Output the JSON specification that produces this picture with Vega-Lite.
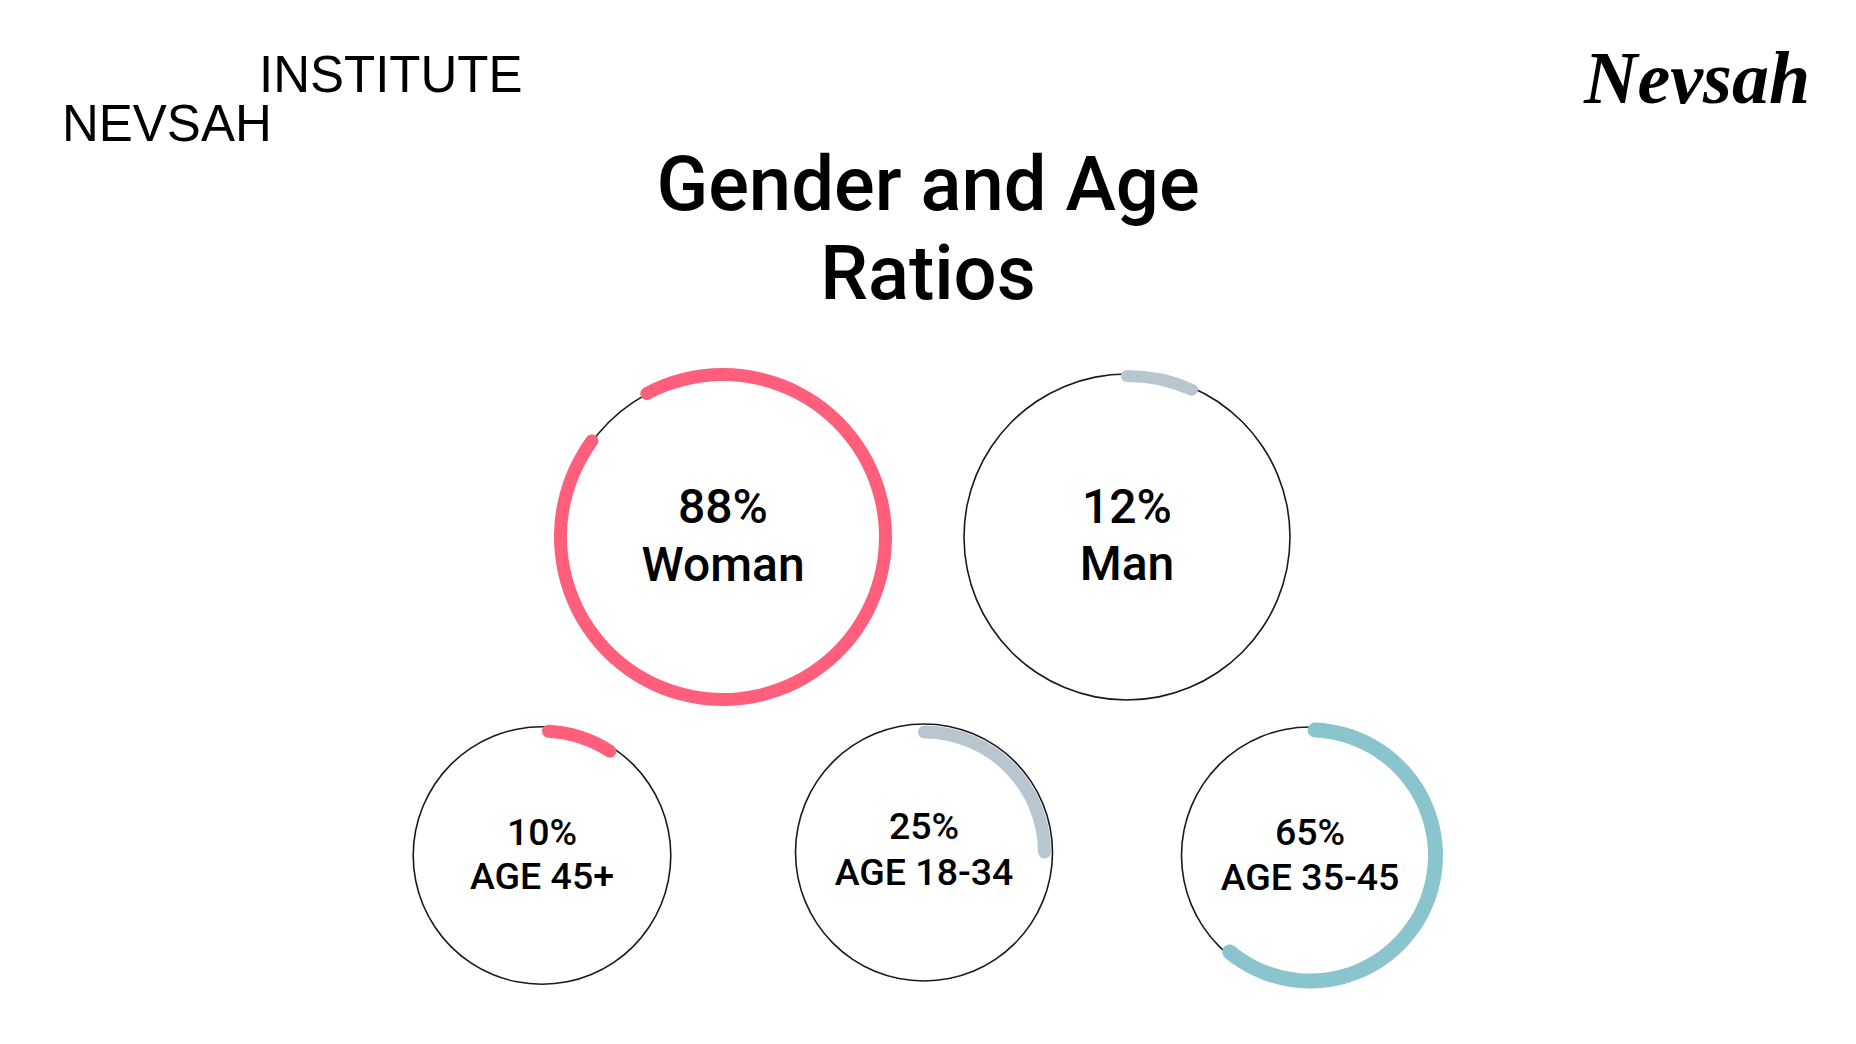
{
  "$schema": "https://vega.github.io/schema/vega-lite/v6.json",
  "background": "#ffffff",
  "padding": 0,
  "center": true,
  "spacing": 0,
  "config": {
    "view": {"stroke": null},
    "concat": {"spacing": 0},
    "text": {"font": "Roboto", "color": "#000000"}
  },
  "datasets": {
    "ratios": [
      {"group": "Gender", "label": "Woman", "value": 0.88, "start": -8.4, "end": 85.7},
      {"group": "Gender", "label": "Man", "value": 0.12, "start": -0.6, "end": 7.2},
      {"group": "Age", "label": "AGE 45+", "value": 0.10, "start": 0, "end": 10},
      {"group": "Age", "label": "AGE 18-34", "value": 0.25, "start": -0.8, "end": 25.8},
      {"group": "Age", "label": "AGE 35-45", "value": 0.65, "start": -0.3, "end": 62}
    ],
    "header": [
      {"role": "title1", "text": "Gender and Age"},
      {"role": "title2", "text": "Ratios"},
      {"role": "brand1", "text": "INSTITUTE"},
      {"role": "brand2", "text": "NEVSAH"},
      {"role": "logo", "text": "Nevsah"}
    ]
  },
  "vconcat": [
    {
      "width": 1856,
      "height": 365,
      "data": {"name": "header"},
      "layer": [
        {
          "transform": [{"filter": "datum.role === 'title1'"}],
          "mark": {"type": "text", "fontSize": 76, "fontWeight": 500, "align": "center", "baseline": "alphabetic", "dy": 27.5},
          "encoding": {"text": {"field": "text", "type": "nominal"}}
        },
        {
          "transform": [{"filter": "datum.role === 'title2'"}],
          "mark": {"type": "text", "fontSize": 76, "fontWeight": 500, "align": "center", "baseline": "alphabetic", "dy": 116},
          "encoding": {"text": {"field": "text", "type": "nominal"}}
        },
        {
          "transform": [{"filter": "datum.role === 'brand1'"}],
          "mark": {"type": "text", "font": "Liberation Sans", "fontSize": 51, "fontWeight": "normal", "align": "left", "baseline": "alphabetic", "dx": -669, "dy": -90.5},
          "encoding": {"text": {"field": "text", "type": "nominal"}}
        },
        {
          "transform": [{"filter": "datum.role === 'brand2'"}],
          "mark": {"type": "text", "font": "Liberation Sans", "fontSize": 51, "fontWeight": "normal", "align": "left", "baseline": "alphabetic", "dx": -866, "dy": -41.5},
          "encoding": {"text": {"field": "text", "type": "nominal"}}
        },
        {
          "transform": [{"filter": "datum.role === 'logo'"}],
          "mark": {"type": "text", "font": "Liberation Serif", "fontSize": 74, "fontStyle": "italic", "fontWeight": "bold", "align": "center", "baseline": "alphabetic", "dx": 769, "dy": -80},
          "encoding": {"text": {"field": "text", "type": "nominal"}}
        }
      ]
    },
    {
      "hconcat": [
        {
          "width": 398,
          "height": 344,
          "data": {"name": "ratios"},
          "transform": [{"filter": "datum.label === 'Woman'"}],
          "layer": [
            {"mark": {"type": "arc", "radius": 162.8, "radius2": 161.2, "theta": 0, "theta2": 6.2832, "color": "#1a1a1a"}, "encoding": {}},
            {
              "mark": {"type": "arc", "radius": 169, "radius2": 156, "cornerRadius": 6.5, "color": "#ff5f7b"},
              "encoding": {
                "theta": {"field": "start", "type": "quantitative", "stack": null, "scale": {"domain": [0, 100], "range": [0, 6.283185307179586]}},
                "theta2": {"field": "end"}
              }
            },
            {
              "mark": {"type": "text", "fontSize": 48, "fontWeight": 500, "align": "center", "baseline": "alphabetic", "dy": -14},
              "encoding": {"text": {"field": "value", "type": "quantitative", "format": ".0%"}}
            },
            {
              "mark": {"type": "text", "fontSize": 48, "fontWeight": 500, "align": "center", "baseline": "alphabetic", "dy": 44},
              "encoding": {"text": {"field": "label", "type": "nominal"}}
            }
          ]
        },
        {
          "width": 410,
          "height": 344,
          "data": {"name": "ratios"},
          "transform": [{"filter": "datum.label === 'Man'"}],
          "layer": [
            {"mark": {"type": "arc", "radius": 163.8, "radius2": 162.2, "theta": 0, "theta2": 6.2832, "color": "#1a1a1a"}, "encoding": {}},
            {
              "mark": {"type": "arc", "radius": 167, "radius2": 155, "cornerRadius": 6, "color": "#b8c6cf"},
              "encoding": {
                "theta": {"field": "start", "type": "quantitative", "stack": null, "scale": {"domain": [0, 100], "range": [0, 6.283185307179586]}},
                "theta2": {"field": "end"}
              }
            },
            {
              "mark": {"type": "text", "fontSize": 48, "fontWeight": 500, "align": "center", "baseline": "alphabetic", "dy": -14},
              "encoding": {"text": {"field": "value", "type": "quantitative", "format": ".0%"}}
            },
            {
              "mark": {"type": "text", "fontSize": 48, "fontWeight": 500, "align": "center", "baseline": "alphabetic", "dy": 43},
              "encoding": {"text": {"field": "label", "type": "nominal"}}
            }
          ]
        }
      ]
    },
    {
      "hconcat": [
        {
          "width": 384,
          "height": 293,
          "data": {"name": "ratios"},
          "transform": [{"filter": "datum.label === 'AGE 45+'"}],
          "layer": [
            {"mark": {"type": "arc", "radius": 129.6, "radius2": 128.0, "theta": 0, "theta2": 6.2832, "color": "#1a1a1a"}, "encoding": {}},
            {
              "mark": {"type": "arc", "radius": 131, "radius2": 118, "cornerRadius": 6.5, "color": "#ff5f7b"},
              "encoding": {
                "theta": {"field": "start", "type": "quantitative", "stack": null, "scale": {"domain": [0, 100], "range": [0, 6.283185307179586]}},
                "theta2": {"field": "end"}
              }
            },
            {
              "mark": {"type": "text", "fontSize": 37.5, "fontWeight": 500, "align": "center", "baseline": "alphabetic", "dy": -10.5},
              "encoding": {"text": {"field": "value", "type": "quantitative", "format": ".0%"}}
            },
            {
              "mark": {"type": "text", "fontSize": 37.5, "fontWeight": 500, "align": "center", "baseline": "alphabetic", "dy": 33.5},
              "encoding": {"text": {"field": "label", "type": "nominal"}}
            }
          ]
        },
        {
          "width": 380,
          "height": 287,
          "data": {"name": "ratios"},
          "transform": [{"filter": "datum.label === 'AGE 18-34'"}],
          "layer": [
            {"mark": {"type": "arc", "radius": 129.3, "radius2": 127.7, "theta": 0, "theta2": 6.2832, "color": "#1a1a1a"}, "encoding": {}},
            {
              "mark": {"type": "arc", "radius": 127, "radius2": 114, "cornerRadius": 6.5, "color": "#b8c6cf"},
              "encoding": {
                "theta": {"field": "start", "type": "quantitative", "stack": null, "scale": {"domain": [0, 100], "range": [0, 6.283185307179586]}},
                "theta2": {"field": "end"}
              }
            },
            {
              "mark": {"type": "text", "fontSize": 37.5, "fontWeight": 500, "align": "center", "baseline": "alphabetic", "dy": -13.5},
              "encoding": {"text": {"field": "value", "type": "quantitative", "format": ".0%"}}
            },
            {
              "mark": {"type": "text", "fontSize": 37.5, "fontWeight": 500, "align": "center", "baseline": "alphabetic", "dy": 32.5},
              "encoding": {"text": {"field": "label", "type": "nominal"}}
            }
          ]
        },
        {
          "width": 392,
          "height": 293,
          "data": {"name": "ratios"},
          "transform": [{"filter": "datum.label === 'AGE 35-45'"}],
          "layer": [
            {"mark": {"type": "arc", "radius": 129.3, "radius2": 127.7, "theta": 0, "theta2": 6.2832, "color": "#1a1a1a"}, "encoding": {}},
            {
              "mark": {"type": "arc", "radius": 133, "radius2": 118, "cornerRadius": 7.5, "color": "#8ac5cd"},
              "encoding": {
                "theta": {"field": "start", "type": "quantitative", "stack": null, "scale": {"domain": [0, 100], "range": [0, 6.283185307179586]}},
                "theta2": {"field": "end"}
              }
            },
            {
              "mark": {"type": "text", "fontSize": 37.5, "fontWeight": 500, "align": "center", "baseline": "alphabetic", "dy": -10.5},
              "encoding": {"text": {"field": "value", "type": "quantitative", "format": ".0%"}}
            },
            {
              "mark": {"type": "text", "fontSize": 37.5, "fontWeight": 500, "align": "center", "baseline": "alphabetic", "dy": 34.5},
              "encoding": {"text": {"field": "label", "type": "nominal"}}
            }
          ]
        }
      ]
    }
  ]
}
